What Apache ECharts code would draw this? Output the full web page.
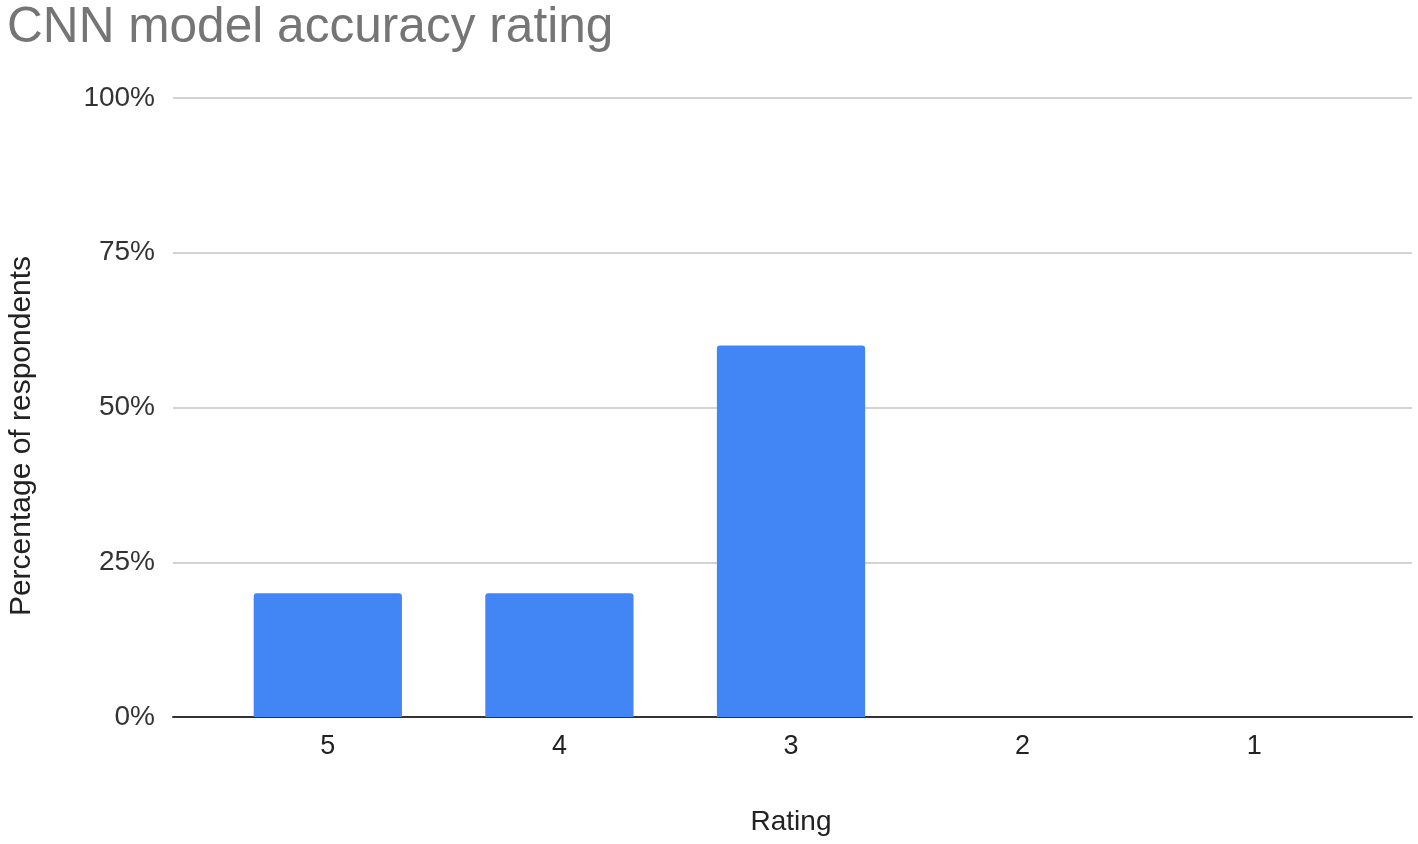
<!DOCTYPE html>
<html>
<head>
<meta charset="utf-8">
<script src="https://cdn.jsdelivr.net/npm/echarts@6/dist/echarts.min.js"></script>
<style>
html,body{margin:0;padding:0;background:#fff;}
#chart{width:1418px;height:844px;}
</style>
</head>
<body>
<div id="chart"></div>
<script>
const titleText = 'CNN model accuracy rating';
const categories = ['5', '4', '3', '2', '1'];
const percentages = [20, 20, 60, 0, 0];
const yTicks = [0, 25, 50, 75, 100];
const xAxisName = 'Rating';
const yAxisName = 'Percentage of respondents';

const FONT = '"Liberation Sans", Arial, sans-serif';
const chart = echarts.init(document.getElementById('chart'), null, {renderer: 'canvas'});
chart.setOption({
  animation: false,
  backgroundColor: '#ffffff',
  title: {
    text: titleText,
    left: 2,
    top: -2,
    textStyle: {fontFamily: FONT, fontSize: 49.6, fontWeight: 'normal', color: '#757575'}
  },
  grid: [
    {left: 173, right: 6, top: 98, bottom: 127, outerBoundsMode: 'none', containLabel: false},
    {left: 212, right: 48, top: 98, bottom: 127, outerBoundsMode: 'none', containLabel: false}
  ],
  xAxis: [
    {
      gridIndex: 0, type: 'value', min: 0, max: 1,
      axisLine: {show: true, lineStyle: {color: '#333333', width: 2}},
      axisTick: {show: false}, axisLabel: {show: false}, splitLine: {show: false}
    },
    {
      gridIndex: 1, type: 'category', data: categories,
      axisLine: {show: false}, axisTick: {show: false},
      axisLabel: {margin: 16, fontFamily: FONT, fontSize: 27, color: '#222222'},
      name: xAxisName, nameLocation: 'middle', nameGap: 91,
      nameTextStyle: {fontFamily: FONT, fontSize: 28, color: '#222222'}
    }
  ],
  yAxis: [
    {
      gridIndex: 0, type: 'value', min: yTicks[0], max: yTicks[yTicks.length - 1], interval: 25,
      axisLine: {show: false}, axisTick: {show: false},
      axisLabel: {margin: 18, fontFamily: FONT, fontSize: 28, color: '#333333', formatter: '{value}%'},
      splitLine: {show: true, lineStyle: {color: '#d3d3d3', width: 2}},
      name: yAxisName, nameLocation: 'middle', nameGap: 136,
      nameTextStyle: {fontFamily: FONT, fontSize: 30, color: '#222222', padding: [0, 57, 0, 0]}
    },
    {
      gridIndex: 1, type: 'value', min: 0, max: 100, show: false
    }
  ],
  series: [{
    type: 'bar',
    xAxisIndex: 1, yAxisIndex: 1,
    data: percentages,
    barWidth: '64%',
    itemStyle: {color: '#4285F4', borderRadius: [3, 3, 0, 0]}
  }]
});
</script>
</body>
</html>
